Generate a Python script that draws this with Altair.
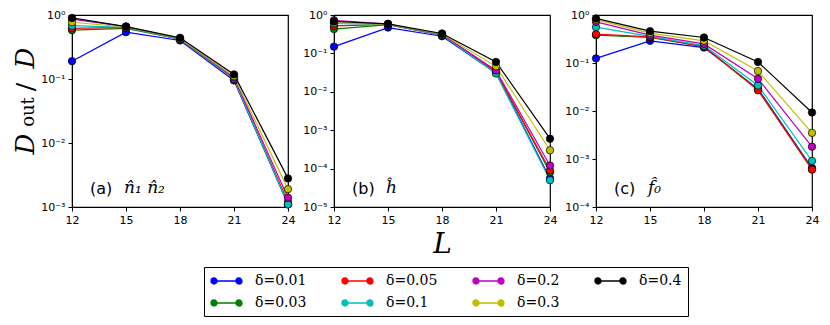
import math
import altair as alt
import pandas as pd

L_values = [12, 15, 18, 21, 24]
deltas = ["0.01", "0.03", "0.05", "0.1", "0.2", "0.3", "0.4"]
colors = ["#0000ff", "#008000", "#ff0000", "#00bfbf", "#bf00bf", "#bfbf00", "#000000"]

# legend order (row-wise in a 4-column legend)
legend_order = ["0.01", "0.05", "0.2", "0.4", "0.03", "0.1", "0.3"]

panel_a = {
    "0.01": [0.19, 0.54, 0.40, 0.095, 0.0011],
    "0.03": [0.58, 0.62, 0.42, 0.098, 0.0011],
    "0.05": [0.62, 0.64, 0.42, 0.099, 0.0012],
    "0.1":  [0.68, 0.64, 0.42, 0.100, 0.0011],
    "0.2":  [0.86, 0.66, 0.43, 0.105, 0.0014],
    "0.3":  [0.77, 0.65, 0.43, 0.110, 0.0019],
    "0.4":  [0.90, 0.66, 0.44, 0.118, 0.0028],
}
panel_b = {
    "0.01": [0.15, 0.47, 0.28, 0.031, 5.5e-5],
    "0.03": [0.43, 0.56, 0.30, 0.033, 8e-5],
    "0.05": [0.52, 0.57, 0.30, 0.033, 9e-5],
    "0.1":  [0.60, 0.57, 0.30, 0.030, 5e-5],
    "0.2":  [0.73, 0.58, 0.31, 0.036, 1.2e-4],
    "0.3":  [0.62, 0.58, 0.32, 0.046, 3e-4],
    "0.4":  [0.68, 0.59, 0.33, 0.060, 6e-4],
}
panel_c = {
    "0.01": [0.125, 0.29, 0.21, 0.029, 6.5e-4],
    "0.03": [0.38, 0.34, 0.22, 0.028, 6.2e-4],
    "0.05": [0.40, 0.35, 0.22, 0.027, 6.0e-4],
    "0.1":  [0.56, 0.36, 0.23, 0.034, 9.1e-4],
    "0.2":  [0.72, 0.38, 0.25, 0.047, 1.8e-3],
    "0.3":  [0.80, 0.42, 0.29, 0.068, 3.5e-3],
    "0.4":  [0.85, 0.46, 0.34, 0.105, 9.3e-3],
}

panel_labels = ["(a)", "(b)", "(c)"]
panel_math = ["n\u0302\u2081 n\u0302\u2082", "h\u0302", "f\u0302\u2080"]
y_mins = [1e-3, 1e-5, 1e-4]

# y-axis title pieces: D_out / D
ytitle_parts = ["D", "out", "/", "D"]


def to_df(d):
    rows = []
    for k, dl in enumerate(deltas):
        for L, v in zip(L_values, d[dl]):
            rows.append({"delta": dl, "L": L, "v": v, "ord": k})
    return pd.DataFrame(rows)


sup_expr = ("'10' + replace(replace(replace(replace(replace(replace(replace("
            "toString(round(log(datum.value)/LN10)),'-','\u207b'),'0','\u2070'),'1','\u00b9'),"
            "'2','\u00b2'),'3','\u00b3'),'4','\u2074'),'5','\u2075')")

# legend glyph: line with a dot at each end (units: 1 = 7px at symbolSize 196)
custom_symbol = ("M -0.57 0 L 3.0 0 "
                 "M -1.0 0 a 0.43 0.43 0 1 0 0.86 0 a 0.43 0.43 0 1 0 -0.86 0 "
                 "M 2.57 0 a 0.43 0.43 0 1 0 0.86 0 a 0.43 0.43 0 1 0 -0.86 0")

W, H = 216, 192


def make_panel(i, data):
    df = to_df(data)
    ymin = y_mins[i]
    yvals = [10.0 ** e for e in range(int(round(math.log10(ymin))), 1)]
    x = alt.X("L:Q", scale=alt.Scale(domain=[12, 24], nice=False, zero=False),
              axis=alt.Axis(values=L_values, title="L" if i == 1 else None,
                            titleFont="DejaVu Serif", titleFontStyle="italic",
                            titleFontSize=28, titleFontWeight="normal", titlePadding=5,
                            labelFontSize=11, labelFont="DejaVu Sans", labelPadding=3,
                            tickSize=4, grid=False, labelFlush=False))
    y = alt.Y("v:Q", scale=alt.Scale(type="log", domain=[ymin, 1], nice=False),
              axis=alt.Axis(values=yvals, labelExpr=sup_expr, title=None,
                            labelFontSize=11, labelFont="DejaVu Sans", labelPadding=3,
                            tickSize=4, grid=False, labelFlush=False))
    legend = alt.Legend(title=None, orient="none", legendX=132, legendY=252,
                        columns=4, direction="horizontal",
                        symbolType=custom_symbol, symbolSize=196,
                        symbolStrokeWidth=1.3, labelFont="DejaVu Serif",
                        labelFontSize=14,
                        labelExpr="'\u03b4=' + datum.label",
                        columnPadding=32, rowPadding=7, labelOffset=29,
                        strokeColor="black", padding=6, fillColor="white",
                        symbolOpacity=1) if i == 0 else None
    color = alt.Color("delta:N", scale=alt.Scale(domain=legend_order, range=[
        colors[deltas.index(d)] for d in legend_order]), legend=legend)
    base = alt.Chart(df)
    line = base.mark_line(strokeWidth=1.2).encode(x=x, y=y, color=color,
                                                  order=alt.Order("L:Q"))
    pts = base.mark_point(filled=True, size=55, stroke="black", strokeWidth=0.7,
                          opacity=1).encode(x=x, y=y, color=color,
                                            order=alt.Order("ord:Q"))
    lab_df = pd.DataFrame({"t": [panel_labels[i]], "m": [panel_math[i]]})
    t1 = alt.Chart(lab_df).mark_text(align="left", baseline="middle", fontSize=16,
                                     font="DejaVu Sans").encode(
        x=alt.value(18), y=alt.value(174), text="t:N")
    t2 = alt.Chart(lab_df).mark_text(align="left", baseline="middle", fontSize=17,
                                     font="DejaVu Serif", fontStyle="italic").encode(
        x=alt.value(52), y=alt.value(173), text="m:N")
    layers = [line, pts, t1, t2]
    if i == 0:
        tdf = pd.DataFrame({"p": ytitle_parts})
        specs = [  # (index, font size, style, x, y)
            (0, 26, "italic", -46, 129),
            (1, 18, "normal", -43, 97),
            (2, 25, "normal", -46, 72),
            (3, 26, "italic", -46, 43),
        ]
        for idx, fs, st, xx, yy in specs:
            layers.append(
                alt.Chart(tdf.iloc[[idx]]).mark_text(
                    angle=270, align="center", baseline="middle", fontSize=fs,
                    font="DejaVu Serif", fontStyle=st, color="black").encode(
                    x=alt.value(xx), y=alt.value(yy), text="p:N"))
    return alt.layer(*layers).properties(width=W, height=H)


panels = [make_panel(i, d) for i, d in enumerate([panel_a, panel_b, panel_c])]

chart = alt.hconcat(*panels, spacing=6).properties(
    padding={"left": 4, "top": 0, "right": 0, "bottom": 0}
).configure_view(stroke="black", strokeWidth=1.2).configure_axis(
    domainColor="black", tickColor="black", labelColor="black", titleColor="black"
).configure_legend(labelColor="black")

chart.save("out.html", embed_options={"renderer": "svg", "actions": False})
